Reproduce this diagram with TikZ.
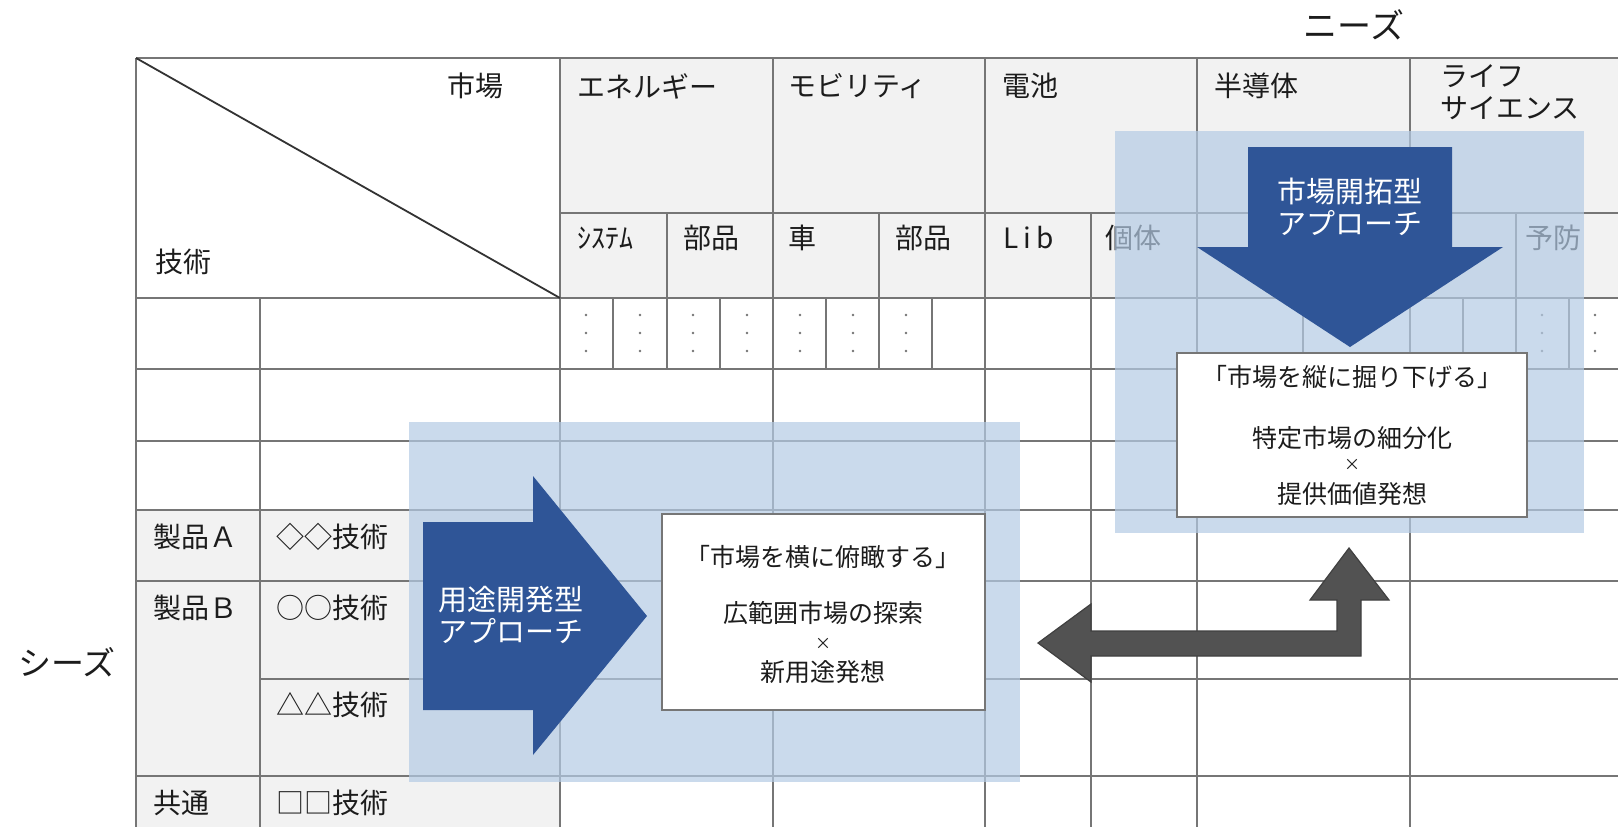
\documentclass[tikz,border=0pt]{standalone}
\usepackage{fontspec}
\setmainfont{Noto Sans CJK JP}
\definecolor{gridc}{RGB}{118,118,118}
\definecolor{hdr}{RGB}{242,242,242}
\definecolor{ovl}{RGB}{180,203,228}
\definecolor{darrow}{RGB}{47,85,151}
\definecolor{garrow}{RGB}{82,82,82}
\definecolor{txt}{RGB}{28,28,28}
\tikzset{
  gridline/.style={draw=gridc, line width=0.8pt},
  lbl/.style={inner sep=0pt, anchor=west, text=txt, font=\fontsize{14}{16}\selectfont},
  ctr/.style={inner sep=0pt, anchor=center, text=txt, font=\fontsize{14}{16}\selectfont},
  boxtxt/.style={inner sep=0pt, anchor=center, text=txt, font=\fontsize{12.5}{14}\selectfont},
  timestxt/.style={inner sep=0pt, anchor=center, text=txt, font=\fontsize{8}{9}\selectfont},
  overlaybox/.style={fill=ovl, fill opacity=0.7},
  whitebox/.style={draw=gridc, line width=0.8pt, fill=white, inner sep=0pt},
  bluearrow/.style={fill=darrow},
  grayarrow/.style={fill=garrow, draw=black!75, line width=0.6pt},
  arrowtxt/.style={inner sep=0pt, text=white, font=\fontsize{14.5}{16.2}\selectfont},
}
\begin{document}
\begin{tikzpicture}[x=0.5pt, y=-0.5pt]
\useasboundingbox (0,0) rectangle (1618,827);
\fill[white] (0,0) rectangle (1618,827);
% background fills
\fill[hdr] (560,58) rectangle (1618,298);
\fill[hdr] (136,510) rectangle (560,827);
% grid: vertical
\foreach \x in {136,560,773,985,1197,1410} \draw[gridline] (\x,58) -- (\x,827);
\draw[gridline] (260,298) -- (260,827);
\draw[gridline] (1091,213) -- (1091,827);
\foreach \x in {667,879,1303,1516} \draw[gridline] (\x,213) -- (\x,369);
\foreach \x in {613,720,826,932,1463,1569} \draw[gridline] (\x,298) -- (\x,369);
% grid: horizontal
\foreach \y in {58,298,369,441,510,581,776} \draw[gridline] (136,\y) -- (1618,\y);
\draw[gridline] (560,213) -- (1618,213);
\draw[gridline] (260,679) -- (1618,679);
% diagonal
\draw[line width=0.9pt, black!80] (136,58) -- (560,298);
% dots
\foreach \x in {586,640,693,747,800,853,906,1542,1595}
  \foreach \y in {315,333,351} \fill[black!55] (\x,\y) circle (0.7pt);
% outside labels
\node[ctr, font=\fontsize{17}{19}\selectfont] (needs) at (1354,25) {ニーズ};
\node[ctr, font=\fontsize{16.5}{19}\selectfont] (seeds) at (67,662) {シーズ};
% header labels
\node[lbl] (shijo) at (447,86) {市場};
\node[lbl] (gijutsu) at (155,262) {技術};
\node[lbl] (ene) at (577,86) {エネルギー};
\node[lbl] (mob) at (788,86) {モビリティ};
\node[lbl] (den) at (1002,86) {電池};
\node[lbl] (han) at (1214,86) {半導体};
\node[lbl, align=left] (life) at (1440,92) {ライフ\\サイエンス};
\node[lbl] (sys) at (577,238) {ｼｽﾃﾑ};
\node[lbl] (buhin1) at (683,238) {部品};
\node[lbl] (kuruma) at (788,238) {車};
\node[lbl] (buhin2) at (895,238) {部品};
\node[lbl] (lib) at (1003,238) {\addfontfeatures{LetterSpace=18}Lib};
\node[lbl] (kotai) at (1105,238) {個体};
\node[lbl] (yobo) at (1525,238) {予防};
% row labels
\node[lbl] (seiA) at (153,537) {製品Ａ};
\node[lbl] (tecA) at (276,537) {◇◇技術};
\node[lbl] (seiB) at (153,608) {製品Ｂ};
\node[lbl] (tecB) at (276,608) {○○技術};
\node[lbl] (tecC) at (276,705) {△△技術};
\node[lbl] (kyotsu) at (153,803) {共通};
\node[lbl] (tecD) at (276,803) {□□技術};
% translucent overlays
\fill[overlaybox] (409,422) rectangle (1020,782);
\fill[overlaybox] (1115,131) rectangle (1584,533);
% white boxes
\node[whitebox, minimum width=161.5pt, minimum height=98pt] (boxL) at (823.5,612) {};
\node[whitebox, minimum width=175pt, minimum height=82pt] (boxR) at (1352,435) {};
\node[boxtxt] (l1) at (823,557) {「市場を横に俯瞰する」};
\node[boxtxt] (l2) at (823,613) {広範囲市場の探索};
\node[timestxt] (l3) at (823,644) {×};
\node[boxtxt] (l4) at (823,672) {新用途発想};
\node[boxtxt] (r1) at (1352,377) {「市場を縦に掘り下げる」};
\node[boxtxt] (r2) at (1352,438) {特定市場の細分化};
\node[timestxt] (r3) at (1352,465) {×};
\node[boxtxt] (r4) at (1352,494) {提供価値発想};
% block arrows
\fill[bluearrow] (423,522) -- (533,522) -- (533,476) -- (647,616) -- (533,755) -- (533,710) -- (423,710) -- cycle;
\fill[bluearrow] (1248,147) -- (1452,147) -- (1452,247) -- (1503,247) -- (1350,347) -- (1197,247) -- (1248,247) -- cycle;
\node[arrowtxt, anchor=west, align=left] (ytxt) at (438,615) {用途開発型\\アプローチ};
\node[arrowtxt, anchor=center, align=center] (stxt) at (1350,207) {市場開拓型\\アプローチ};
% gray bent double arrow
\draw[grayarrow] (1038,643) -- (1091,604) -- (1091,631) -- (1337,631) -- (1337,600) -- (1310,600) -- (1349,548) -- (1389,600) -- (1361,600) -- (1361,656) -- (1091,656) -- (1091,682) -- cycle;
\end{tikzpicture}
\end{document}
